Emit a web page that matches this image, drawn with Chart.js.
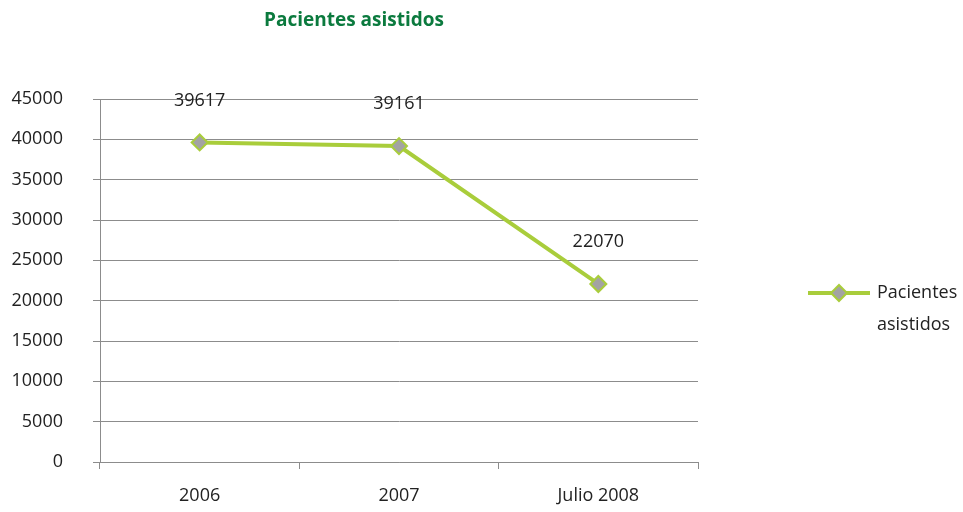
<!DOCTYPE html>
<html>
<head>
<meta charset="utf-8">
<script src="https://cdn.jsdelivr.net/npm/chart.js@4"></script>
<style>
  html, body { margin: 0; padding: 0; background: #fff; }
  #wrap { width: 963px; height: 512px; position: relative; }
</style>
</head>
<body>
<div id="wrap"><canvas id="chart"></canvas></div>
<script>
// DATA
const categories = ['2006', '2007', 'Julio 2008'];
const pacientes = [39617, 39161, 22070];
const seriesName = ['Pacientes', 'asistidos'];
const chartTitle = 'Pacientes asistidos';

const FONT = "'Open Sans', sans-serif";
const LINE_COLOR = '#a9cd3b';
const GRID_COLOR = '#8c8c8c';

// title + point labels + legend, drawn on the canvas
const extras = {
  id: 'extras',
  afterDatasetsDraw(chart) {
    const ctx = chart.ctx;
    ctx.save();
    // title
    ctx.fillStyle = '#0b7a3e';
    ctx.font = "bold 19px " + FONT;
    ctx.textAlign = 'center';
    ctx.textBaseline = 'middle';
    ctx.fillText(chartTitle, 354, 21);

    // values over the points
    const meta = chart.getDatasetMeta(0);
    ctx.fillStyle = '#222';
    ctx.font = "18px " + FONT;
    meta.data.forEach((pt, i) => {
      ctx.fillText(String(pacientes[i]), pt.x, pt.y - 42);
    });

    // legend
    const ly = 293;
    ctx.strokeStyle = LINE_COLOR;
    ctx.lineWidth = 4;
    ctx.beginPath();
    ctx.moveTo(808, ly);
    ctx.lineTo(870, ly);
    ctx.stroke();
    ctx.beginPath();
    ctx.moveTo(839, ly - 8);
    ctx.lineTo(847, ly);
    ctx.lineTo(839, ly + 8);
    ctx.lineTo(831, ly);
    ctx.closePath();
    ctx.fillStyle = '#a3a3a3';
    ctx.fill();
    ctx.lineWidth = 2;
    ctx.stroke();
    ctx.fillStyle = '#222';
    ctx.textAlign = 'left';
    ctx.fillText(seriesName[0], 877, ly);
    ctx.fillText(seriesName[1], 877, ly + 32);
    ctx.restore();
  }
};

new Chart(document.getElementById('chart'), {
  type: 'line',
  data: {
    labels: categories,
    datasets: [{
      label: seriesName.join(' '),
      data: pacientes,
      borderColor: LINE_COLOR,
      borderWidth: 4,
      pointStyle: 'rectRot',
      pointRadius: 8,
      pointBackgroundColor: '#a3a3a3',
      pointBorderColor: LINE_COLOR,
      pointBorderWidth: 2,
      tension: 0
    }]
  },
  options: {
    responsive: true,
    maintainAspectRatio: false,
    animation: false,
    layout: { padding: { top: 99, right: 265, left: 0, bottom: 0 } },
    plugins: { legend: { display: false }, tooltip: { enabled: false } },
    scales: {
      x: {
        offset: true,
        grid: { offset: true, drawOnChartArea: false, drawTicks: true, tickLength: 7, color: GRID_COLOR },
        border: { color: GRID_COLOR },
        ticks: { color: '#222', font: { family: FONT, size: 18 }, padding: 16, maxRotation: 0 },
        afterFit(s) { s.height = 50; }
      },
      y: {
        min: 0, max: 45000,
        grid: { color: GRID_COLOR, tickLength: 7 },
        border: { color: GRID_COLOR },
        ticks: {
          stepSize: 5000, color: '#222', font: { family: FONT, size: 18 }, padding: 30,
          callback: v => String(v)
        },
        afterFit(s) { s.width = 100; }
      }
    }
  },
  plugins: [extras]
});
</script>
</body>
</html>
